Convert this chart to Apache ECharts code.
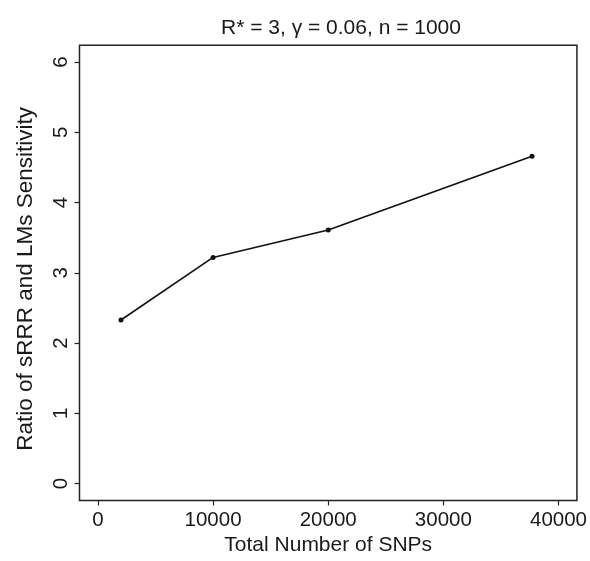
<!DOCTYPE html>
<html>
<head>
<meta charset="utf-8">
<script src="https://cdn.jsdelivr.net/npm/echarts@6/dist/echarts.min.js"></script>
<style>html,body{margin:0;padding:0;background:#fff;}#c{width:590px;height:561px;}</style>
</head>
<body>
<div id="c"></div>
<script>
const titleText = 'R* = 3, \u03b3 = 0.06, n = 1000';
const xName = 'Total Number of SNPs';
const yName = 'Ratio of sRRR and LMs Sensitivity';
const snps = [2000, 10000, 20000, 37700];
const ratio = [2.33, 3.22, 3.61, 4.66];
const xTicks = [0, 10000, 20000, 30000, 40000];
const yTicks = [0, 1, 2, 3, 4, 5, 6];

const font = 'Liberation Sans, Arial, Helvetica, sans-serif';
const txt = '#1a1a1a';
const chart = echarts.init(document.getElementById('c'));
chart.setOption({
  backgroundColor: '#fff',
  animation: false,
  title: {
    text: titleText, left: 336, top: 13, textAlign: 'center',
    textStyle: {fontFamily: font, fontSize: 21, fontWeight: 'normal', color: txt}
  },
  grid: {left: 79.5, top: 45.3, width: 498.5, height: 457.2, show: true,
         borderColor: '#222', borderWidth: 1.5, backgroundColor: 'transparent', containLabel: false},
  xAxis: {
    type: 'value', min: -1600, max: 41600,
    name: xName, nameLocation: 'middle', nameGap: 45, nameMoveOverlap: false,
    nameTextStyle: {fontFamily: font, fontSize: 21, color: txt, verticalAlign: 'middle'},
    axisLine: {show: false, onZero: false},
    splitLine: {show: false},
    axisTick: {show: true, length: 5, inside: false, customValues: xTicks,
               lineStyle: {color: '#222', width: 1.2}},
    axisLabel: {customValues: xTicks, margin: 9, fontFamily: font, fontSize: 20.5, color: txt,
                formatter: v => String(v), showMinLabel: true, showMaxLabel: true}
  },
  yAxis: {
    type: 'value', min: -0.24, max: 6.24,
    name: yName, nameLocation: 'middle', nameGap: 54, nameRotate: 90, nameMoveOverlap: false,
    nameTextStyle: {fontFamily: font, fontSize: 22.5, color: txt, verticalAlign: 'middle',
                    padding: [0, 12, 0, 0]},
    axisLine: {show: false, onZero: false},
    splitLine: {show: false},
    axisTick: {show: true, length: 5, inside: false, customValues: yTicks,
               lineStyle: {color: '#222', width: 1.2}},
    axisLabel: {customValues: yTicks, rotate: 90, margin: 8, fontFamily: font, fontSize: 20.5, color: txt,
                formatter: v => String(v), showMinLabel: true, showMaxLabel: true}
  },
  series: [{
    type: 'line',
    data: snps.map((x, i) => [x, ratio[i]]),
    symbol: 'circle', symbolSize: 5,
    itemStyle: {color: '#111'},
    lineStyle: {color: '#111', width: 1.6},
    showAllSymbol: true
  }]
});
</script>
</body>
</html>
